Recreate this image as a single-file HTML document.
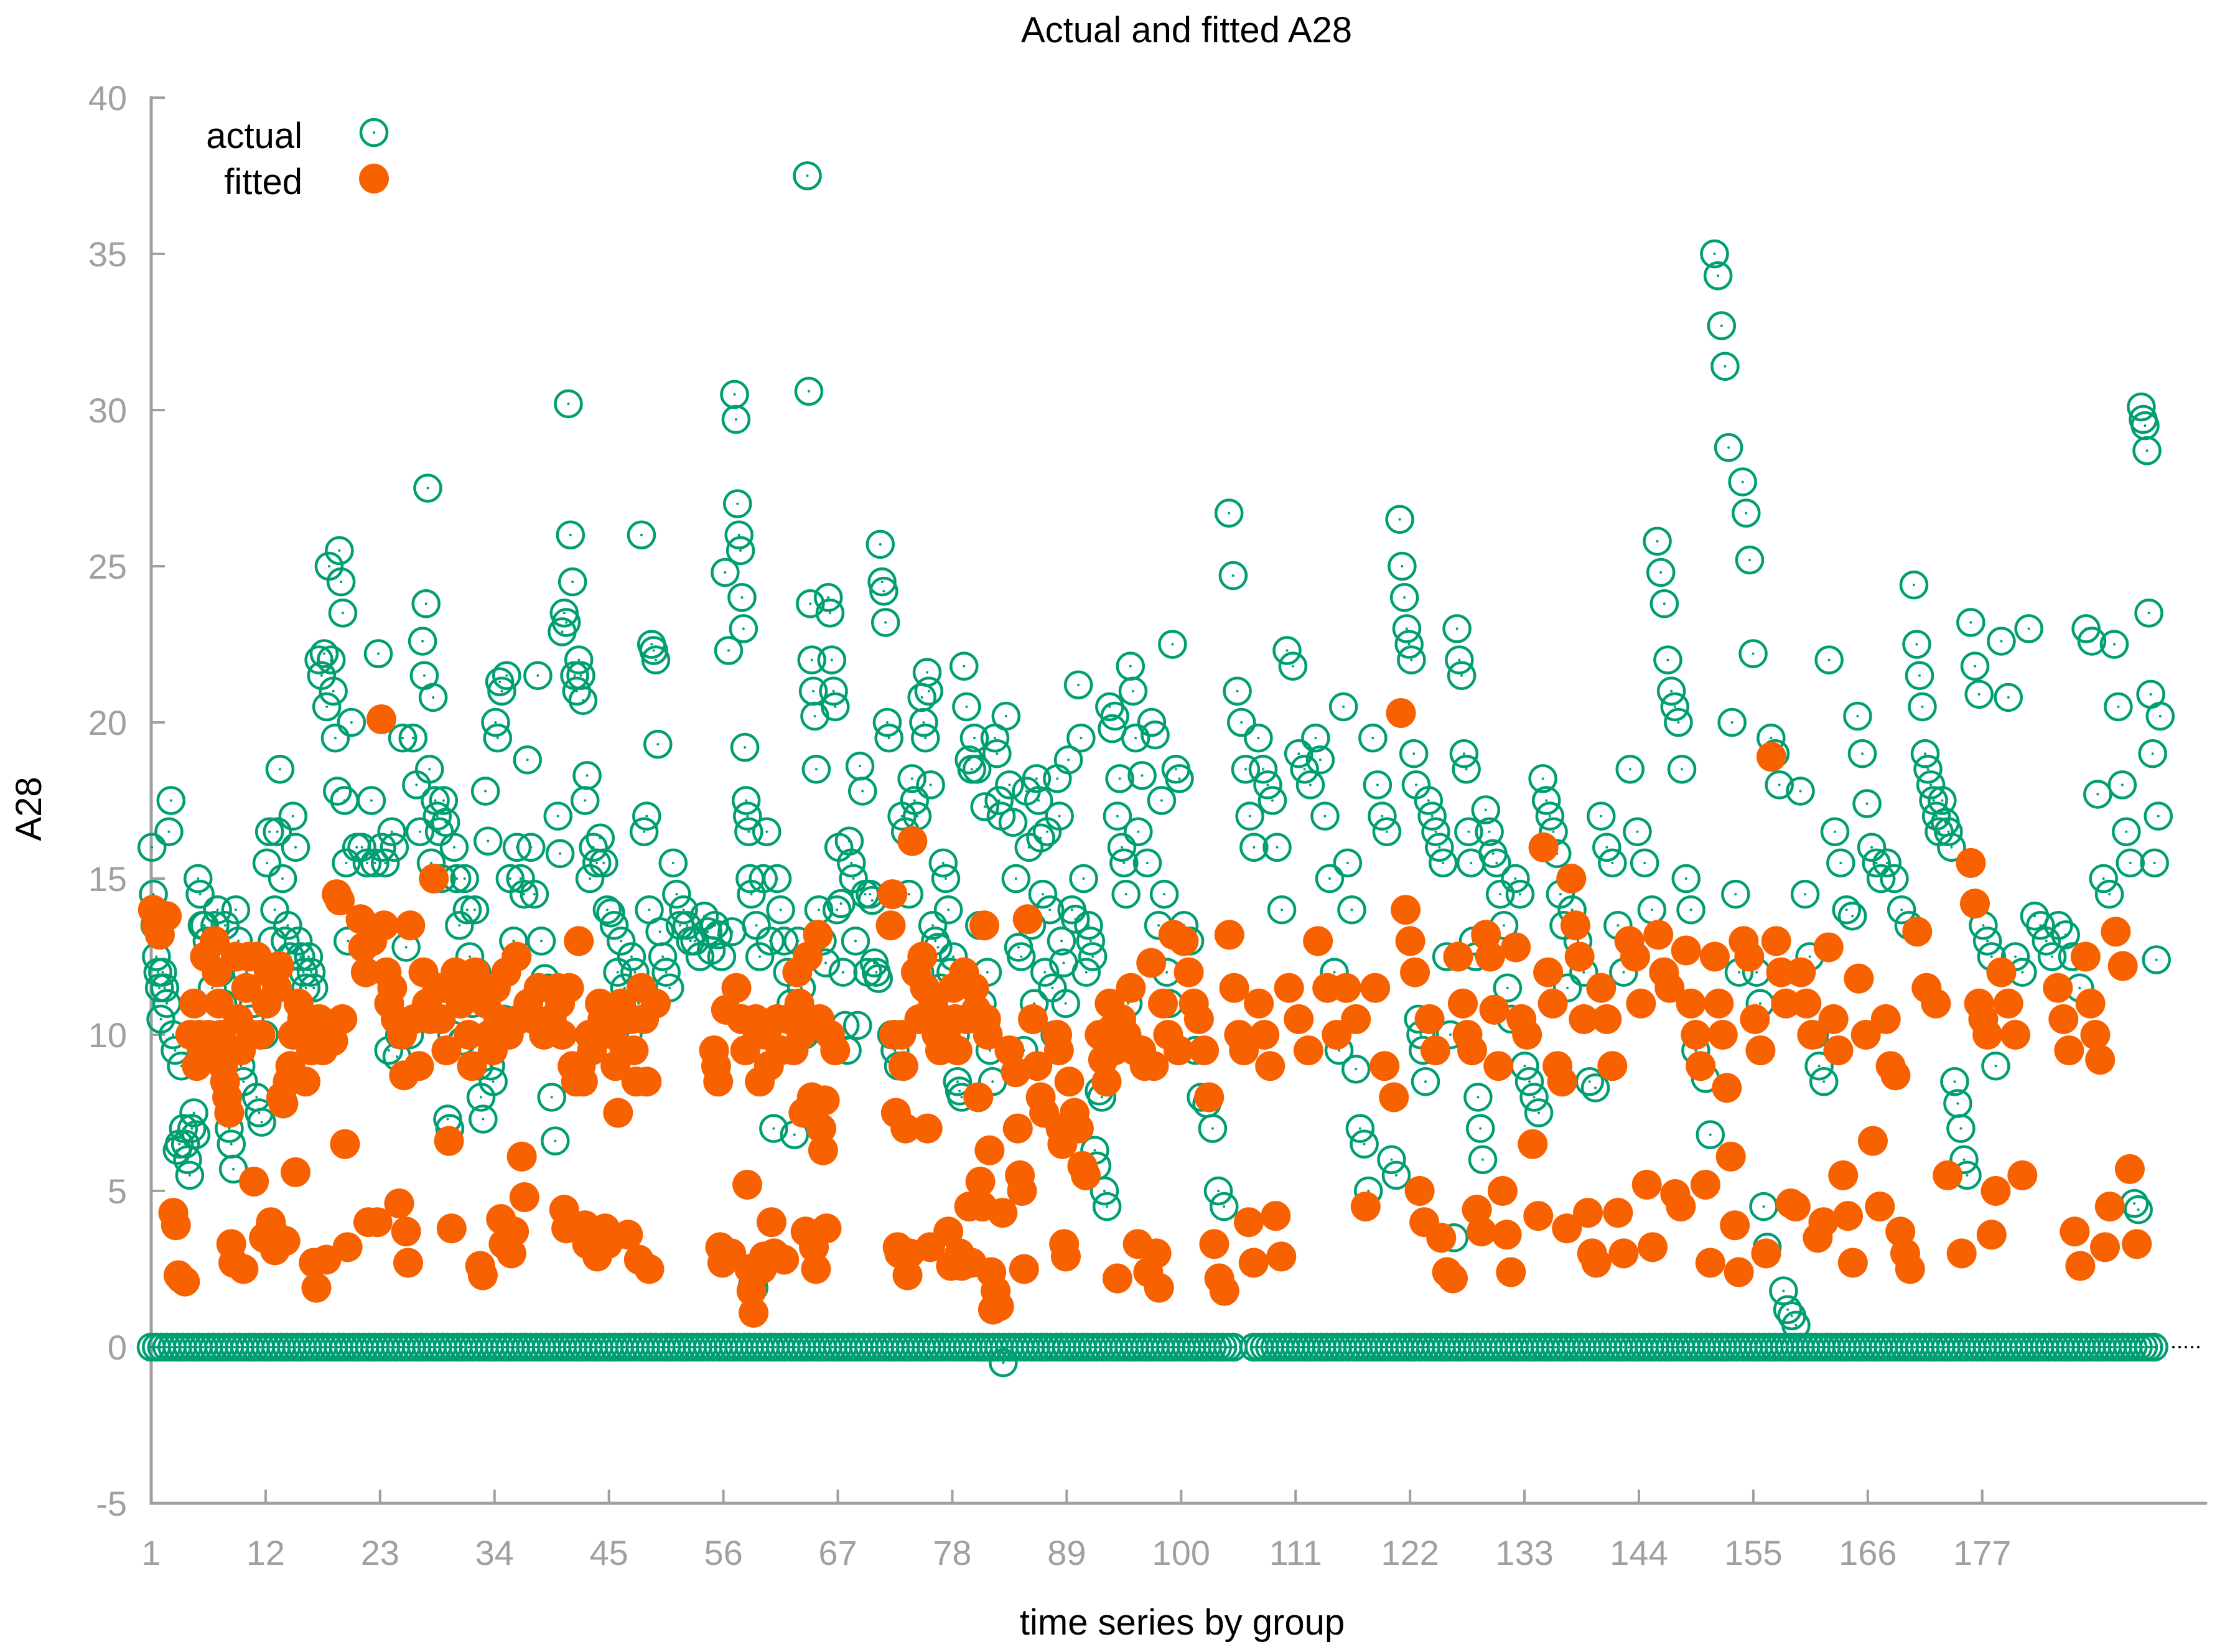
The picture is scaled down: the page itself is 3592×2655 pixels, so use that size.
<!DOCTYPE html>
<html><head><meta charset="utf-8"><style>
html,body{margin:0;padding:0;background:#fff;}
svg{display:block;font-family:"Liberation Sans","DejaVu Sans",sans-serif;}
</style></head><body>
<svg id="chart" width="3592" height="2655" viewBox="0 0 3592 2655" xmlns="http://www.w3.org/2000/svg">
<rect width="3592" height="2655" fill="#fff"/>
<text x="1907" y="68" font-size="58" text-anchor="middle" fill="#000">Actual and fitted A28</text>
<text x="0" y="0" font-size="58" text-anchor="middle" fill="#000" transform="translate(66,1300) rotate(-90)">A28</text>
<text x="1900" y="2627" font-size="58" text-anchor="middle" fill="#000">time series by group</text>
<g id="axes"></g>
<g id="zeroline"></g>
<g id="actual"></g>
<g id="fitted"></g>
<g>
<text x="486" y="238" font-size="58" text-anchor="end" fill="#000">actual</text>
<circle cx="601" cy="213" r="21" fill="none" stroke="#009e73" stroke-width="4.5"/>
<circle cx="601" cy="213" r="2" fill="#009e73"/>
<text x="486" y="312" font-size="58" text-anchor="end" fill="#000">fitted</text>
<circle cx="601" cy="287" r="24" fill="#f86100"/>
</g>
</svg>
<script>
// ---- data ----
const yTicks = [-5,0,5,10,15,20,25,30,35,40];
const xTicks = [1,12,23,34,45,56,67,78,89,100,111,122,133,144,155,166,177];
// per-group actual (non-zero) values for groups 1..99
const actualGroups = [
[16,14.5,13.5,12.5,12,11.5,10.5],[12,11.5,11,16.5,17.5],[10,9.5,6.3,6.5,9],[7,6.5,6,5.5,7],[7.5,6.8,15,14.5,13.5],
[13.5,13,10,11.5],[13.5,14,12,11],[13.5,8,7,6.5,5.7],[14,13,9,8.5],[12,10.5,11],
[8,7.5,7.2,10],[15.5,16.5,13,14],[16.5,18.5,15,13],[13.5,12.5,17,16],[13,12.5,12,11.5],
[12.5,12,11.5,10.5],[22,21.5,22.2,20.5],[25,22,21,19.5,17.8],[25.5,24.5,23.5,17.5,15.5,13],[20,16],
[16,15.5],[17.5,15.5,22.2],[16,15.5,9.5],[16.5,16,9.3,10],[19.5,12.8,10],
[19.5,18,16.5],[22.6,21.5,23.8,27.5,18.5,15.5],[20.8,17.5,17,16.5,15],[17.5,16.8,7.3,7,10],[16,15,13.5,9.8],
[15,14,12.5,11],[14,12,9,8,7.3],[17.8,16.2,9,8.5],[20,19.5,21.3,21,10.5],[21.5,15,13],
[16,15,14.5],[18.8,16,14.5],[21.5,13,11.8],[11.5,8,6.6],[17,15.8,22.9,23.5,23.2],
[30.2,26,24.5,21.5,21],[22,21.5,20.7,17.5,18.3],[15,16,15.5],[16.3,15.5,14],[13.9,13.5,12],
[13,11.5,10],[12.5,12,11],[26,16.5,17,14],[22.5,22.3,22,19.3,13.3],[12.5,12,11.5],
[15.5,14.5,13.5],[14,13.5,13],[13,12.5],[13.8,13.3,12.7],[13.5,13.2,12.5],
[24.8,22.3,13.3],[30.5,29.7,27,26,25.5,24,23],[19.2,17.5,17,16.5,15,14.5,2,1.9],[13.5,12.5,15],[16.5,13,7],
[15,14,13],[12,11,6.8],[13,11.5,10],[37.5,30.6,23.8,22,21,20.2,18.5],[14,13,12.3],
[24,23.5,22,21,20.5,14],[16,14.2,12,10.3,9.5],[16.2,15.5,15,13,10.3],[18.6,17.8,14.5,12],[14.5,14.3,12.3,12,11.8],
[25.7,24.5,24.2,23.2,20,19.5],[10,9.5,9],[17,16.5,14.5],[18.2,17.5,17,12],[20.8,20,19.5,21.6,21,18],
[13.5,13,12.8,11.5],[15.5,15,14,12],[12.5,10,8.5,8.2,8],[21.8,20.5,18.8,18.5],[19.5,18.5,13.5,11],
[17.3,12,9.5,8.5],[19.5,19,17.5,17,-0.5],[20.2,18,16.8],[15,12.8,12.5,9.5],[17.8,16,13.5,11],
[18.2,17.5,16.3,14.5,12],[16.5,14,11.5,10],[18.2,17,13,12.3,11],[18.8,14,13.7],[21.2,19.5,15,12],
[13.5,13,12.5,6.3,5.8],[8.2,8,5,4.5],[20.5,19.8,20.2,17],[18.2,16,15.5,14.5,11],[21.8,21,19.5,16.5],
[18.3,15.5],[20,19.6,13.5],[17.5,14.5,12,11],[22.5,18.5,18.2]
];
const fittedGroups = [
[14,13.5,13.2],[13.8],[4.3,3.9,2.3,2.2],[2.1,10],[11,9,10,9.5],
[12.5,10,9.5],[13,12,11,10,9],[8.5,8,7.5,3.3,2.7],[12.5,10.5,9.5,2.5],[11.5,12.5,10,5.3],
[12.5,10,3.5],[11,12,4,3.7,3.1],[11.5,12.2,8,7.8,3.4],[8.5,9,10,5.6],[11,10.5,8.5],
[10,9.5,2.7,1.9],[10.5,9.5,2.8],[10.2,9.8,14.5],[14.3,10.5,6.5,3.2],[],
[13.7,12.8,12,4],[13,4],[20.1,13.5,12,11],[11.5,10.5,4.6],[10,8.7,3.7,2.7,13.5],
[10.5,9],[12,11,10.5],[15,11.5,10.5],[11.5,9.5,6.6,3.8],[12,11],
[11.5,10,9],[12,11.5,2.6,2.3],[11,10,9.5],[11.5,10.5,4.1,3.3],[12,10,3,3.7],
[12.5,10.5,6.1,4.8],[11,10.5],[11.5,10],[10.5],[11.5,11,10,4.4,3.8],
[11.5,9,8.5],[13,9,8.5,3.9,3.3],[10,9.5,3.5,2.9],[11,10.5,3.8,3.3],[10.5,10,9,7.5],
[11,9.5,3.6],[10.5,9.5,8.5,2.8],[11.5,10.5,8.5,2.5],[11],[],
[],[],[],[],[9.5,9,8.5,3.2,2.7],
[10.8,3],[11.5,10.5],[9.5,5.2,2.5,1.8,1.1],[10.5,10,8.5,2.5,2.9],[10,9,4,3],
[10.5,9.5,2.8],[10.5,9.5],[12,11,10,7.5,3.7],[12.5,10.5,8,3.2,2.5],[13.2,10.5,7,6.3,7.9,3.8],
[10,9.5],[],[],[],[],
[],[13.5,14.5,10,7.5,3.2,3],[10,9,7,2.3,3],[16.2,12,10.5],[12.5,11.5,7,3.2],
[11,10,9.5],[10.5,10,3.7,2.6],[11.5,10.5,9.5,3,2.6],[12,10.5,4.5,2.7],[11.5,10.8,8,5.3,4.5],
[13.5,10.5,10,6.3,2.4,1.2],[1.8,1.3,4.3],[9.5],[8.8,7,5.5,5,2.5],[13.7,10.5],
[9,8,7.5],[],[10,9.5,7,6.5,3.3,2.9],[8.5,7.5],[7,5.8,5.5],
[],[10,9.2,8.5],[11,10.2,9.5,2.2],[10.5,10],[11.5,9.5,3.3],
[9.5,9,2.4],[12.3,9,3,1.9],[11,10],[13.2,9.5]
];
// later part: multi-group segments (start position in group units)
const segStart = [100,104.4,107.2,109.9,112.7,115.4,118.2,120.9,123.6,126.4,129.1,131.9,134.6,137.3,140.1,142.8,145.6,148.3,151.1,153.8,156.5,159.3,162.0,164.8,167.5,170.3,173.0,175.7,178.5,181.2,184.0,186.7,189.5,192.2];
const segEnd = 194.2;
const actualSeg = [
[13.5,13,9.5,8,7.8,7,5,4.5],[26.7,24.7,21,20,18.5,17,16],[19.5,18.5,18,17.5,16,14],[22.3,21.8,19,18.5,18],
[19.5,18.8,17,15,12,9.5],[20.5,15.5,14,8.9,7,6.5,5],[19.5,18,17,16.5,6,5.5],[26.5,25,24,23,22.5,22,19,18,10.5,10,9.5,8.5],
[17.5,17,16.5,16,15.5,12.5,10,3.5],[23,22,21.5,19,18.5,16.5,15.5,13,12.5,8,7,6],[17.2,16.5,15.8,15.5,14.5,13.5,11.5,10.5],
[15,14.5,9,8.5,8,7.5],[18.2,17.5,17,16.5,15.8,14.5,13.5,11.5],[14,13,12,8.5,8.3],[17,16,15.5,13.5,12],[18.5,16.5,15.5,14],
[25.8,24.8,23.8,22,21,20.5,20,18.5],[15,14,9.5,9,8.6,6.8],[35,34.3,32.7,31.4,28.8,20,14.5,12],[27.7,26.7,25.2,22.2,12,11,4.5,3.2],
[19.5,19,18,1.8,1.2,1,0.7],[17.8,14.5,12.5,10,9,8.5],[22,16.5,15.5,14,13.8],[20.2,19,17.4,16,15.5,15],[15.5,15,14,13.5],
[24.4,22.5,21.5,20.5,19,18.5,18,17.5,17,16.5],[17.5,16.8,16.5,16,8.5,7.8,7,6,5.5],[23.2,21.8,20.9,13.5,13,12.5,9],
[22.6,20.8,12.5,12],[23,13.8,13.5,13,12.5],[13.5,13.2,12.5,11.5],[23,22.6,17.7,15,14.5],[22.5,20.5,18,16.5,15.5,4.6,4.4],
[30.1,29.7,29.5,28.7,23.5,20.9,19,15.5,12.4,17,20.2]
];
const fittedSeg = [
[13,12,11,10.5,9.5,8,3.3,2.2,1.8],[13.2,11.5,10,9.5,4,2.7],[11,10,9,4.2,2.9],[11.5,10.5,9.5],
[13,11.5,10],[11.5,10.5,4.5],[11.5,9,8],[20.3,14,13,12,5,4],
[10.5,9.5,3.5,2.4,2.2],[12.5,11,10,9.5,4.4,3.7],[13.2,12.5,10.8,9,5,3.6,2.4],
[12.8,10.5,10,6.5,4.2],[16,12,11,9,8.5,3.8],[15,13.5,12.5,10.5,4.3,3,2.7],[11.5,10.5,9,4.3,3],[13,12.5,11,5.2,3.2],
[13.2,12,11.5,4.9,4.5],[12.7,11,10,9,5.2,2.7],[12.5,11,10,8.3,6.1,3.9,2.4],[13,12.5,10.5,9.5,3],
[18.9,13,12,11,4.6,4.5],[12,11,10,3.5,4],[12.8,10.5,9.5,5.5,4.2,2.7],[11.8,10,6.6,4.5],[10.5,9,8.7,3.7,3,2.5],
[13.3,11.5,11],[5.5,3],[15.5,14.2,11,10.5,10,3.6,5],
[12,11,10,5.5],[],[11.5,10.5,9.5,3.7,2.6],[12.5,11,10,9.2,3.2,4.5],[13.3,12.2,5.7,3.3],
[]
];
// runs of group positions where the actual value is zero
const zeroRuns = [[1,105],[107,193.7]];
const zeroStep = 0.5;

// ---- scales ----
const X0=243, X1=3545, Y0=2416, YT=157;
function xs(g){ return X0 + (g-1)*16.72; }
function ys(v){ return 2165 - v*50.2; }
const NS="http://www.w3.org/2000/svg";
function mk(tag, attrs, parent){ const e=document.createElementNS(NS,tag); for(const k in attrs) e.setAttribute(k,attrs[k]); parent.appendChild(e); return e; }

// ---- axes ----
const axes=document.getElementById('axes');
const axisY = mk('line',{x1:X0,y1:YT,x2:X0,y2:Y0,stroke:'#a0a0a0','stroke-width':5,'stroke-linecap':'square'},axes);


const axisX = mk('line',{x1:X0,y1:Y0,x2:X1,y2:Y0,stroke:'#a0a0a0','stroke-width':5,'stroke-linecap':'round'},axes);


yTicks.forEach(v=>{
  const y=ys(v);
  mk('line',{x1:X0,y1:y,x2:X0+22,y2:y,stroke:'#a0a0a0','stroke-width':4},axes);
  const t=mk('text',{x:204,y:y+20,'font-size':56,'text-anchor':'end',fill:'#a0a0a0'},axes);
  
  
  t.textContent=v;
});
xTicks.forEach(g=>{
  const x=xs(g);
  mk('line',{x1:x,y1:Y0,x2:x,y2:Y0-22,stroke:'#a0a0a0','stroke-width':4},axes);
  const t=mk('text',{x:x,y:2515,'font-size':56,'text-anchor':'middle',fill:'#a0a0a0'},axes);
  
  
  t.textContent=g;
});

// zero line
const zl=mk('line',{x1:X0,y1:ys(0),x2:X1-10,y2:ys(0),stroke:'#000','stroke-width':4,'stroke-dasharray':'0 10','stroke-linecap':'round'},document.getElementById('zeroline'));



// ---- points ----
const gA=document.getElementById('actual'), gF=document.getElementById('fitted');
function actualPt(pos,v){
  const c=mk('circle',{cx:xs(pos),cy:ys(v),r:21,fill:'none',stroke:'#009e73','stroke-width':4.5},gA);
  
  
  mk('circle',{cx:xs(pos),cy:ys(v),r:2,fill:'#009e73'},gA);
}
const fittedPts=[];
function fittedPt(pos,v){ fittedPts.push([pos,v]); }
function place(vals,start,end,fn){
  const n=vals.length;
  vals.forEach((v,j)=>fn(start+(j+0.5)/n*(end-start),v));
}
zeroRuns.forEach(r=>{ for(let p=r[0]; p<=r[1]+1e-9; p+=zeroStep) actualPt(p,0); });
actualGroups.forEach((vals,i)=>place(vals,i+1,i+2,actualPt));
actualSeg.forEach((vals,i)=>place(vals,segStart[i], i+1<segStart.length?segStart[i+1]:segEnd, actualPt));
fittedGroups.forEach((vals,i)=>place(vals,i+1,i+2,fittedPt));
fittedSeg.forEach((vals,i)=>place(vals,segStart[i], i+1<segStart.length?segStart[i+1]:segEnd, fittedPt));
fittedPts.forEach(p=>{
  const c=mk('circle',{cx:xs(p[0]),cy:ys(p[1]),r:24,fill:'#f86100'},gF);
  
  
});
</script>
</body></html>
